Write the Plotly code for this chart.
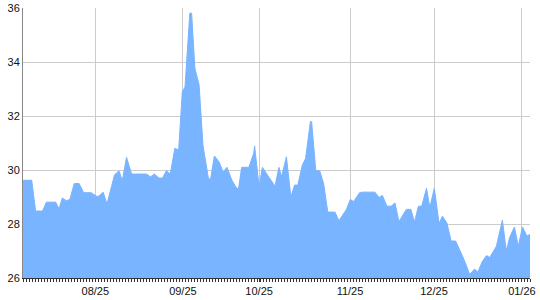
import plotly.graph_objects as go

# x position in trading-day index units, y value
day_idx = [0, 2.9, 4.2, 6.5, 7.8, 10.9, 12.0, 13.1, 14.5, 15.6, 17.1, 18.7, 20.2, 22.7, 24.5, 25.3,
           26.7, 28.0, 30.5, 32.0, 33.1, 34.5, 36.2, 41.1, 42.5, 43.8, 45.3, 46.5, 47.8, 49.1,
           50.6, 51.9, 53.1, 54.0, 55.6, 56.2, 57.3, 58.7, 60.0, 61.8, 62.5, 63.8, 65.3, 66.7,
           68.0, 69.6, 70.9, 71.8, 72.9, 75.3, 76.9, 77.2, 78.7, 79.8, 82.0, 84.0, 85.3, 86.2,
           87.8, 89.3, 90.5, 91.6, 93.1, 94.2, 95.8, 96.2, 97.6, 98.9, 100.2, 101.6, 104.0, 105.3,
           107.8, 109.1, 110.2, 112.2, 113.3, 117.3, 118.7, 119.8, 121.3, 122.7, 124.0, 125.3,
           127.8, 129.3, 130.5, 131.8, 132.9, 134.5, 135.6, 137.1, 138.7, 139.8, 141.3, 142.7,
           144.2, 145.6, 147.1, 148.9, 150.5, 151.6, 153.1, 154.5, 155.6, 157.8, 159.8, 161.1,
           162.2, 163.8, 165.1, 166.5, 168.0, 169.0]
values = [29.62, 29.62, 28.48, 28.48, 28.81, 28.81, 28.56, 28.96, 28.86, 28.91, 29.50, 29.50, 29.16, 29.16, 29.03, 29.03,
          29.18, 28.74, 29.82, 29.97, 29.60, 30.47, 29.85, 29.85, 29.75, 29.85, 29.70, 29.70, 29.97, 29.85,
          30.80, 30.75, 32.90, 33.07, 35.81, 35.81, 33.77, 33.15, 30.90, 29.69, 29.65, 30.52, 30.31, 29.93,
          30.10, 29.63, 29.38, 29.28, 30.10, 30.10, 30.62, 30.89, 29.38, 30.10, 29.73, 29.40, 30.10, 29.75,
          30.49, 29.00, 29.44, 29.44, 30.18, 30.43, 31.79, 31.79, 29.97, 29.97, 29.50, 28.44, 28.44, 28.12,
          28.54, 28.91, 28.83, 29.16, 29.18, 29.18, 28.98, 29.06, 28.66, 28.66, 28.78, 28.09,
          28.54, 28.54, 28.07, 28.66, 28.66, 29.32, 28.61, 29.32, 28.02, 28.29, 28.04, 27.37,
          27.37, 27.03, 26.66, 26.13, 26.33, 26.22, 26.61, 26.83, 26.76, 27.18, 28.14, 27.00,
          27.50, 27.89, 27.18, 27.89, 27.55, 27.62]

tick_pos = [24.1, 53.3, 78.7, 109.0, 137.0, 166.3, 169.0]
tick_labels = ["08/25", "09/25", "10/25", "11/25", "12/25", "01/26", ""]

fig = go.Figure()
fig.add_trace(go.Scatter(
    x=day_idx, y=values, mode="lines", fill="tozeroy",
    line=dict(color="#78b4ff", width=1),
    fillcolor="#78b4ff", hoverinfo="skip", showlegend=False,
))

fig.update_layout(
    width=540, height=300,
    margin=dict(l=23, r=10, t=8, b=22, autoexpand=False),
    paper_bgcolor="white", plot_bgcolor="white",
    font=dict(family="Liberation Sans, Arial, sans-serif", size=11, color="#111"),
    xaxis=dict(
        range=[0, 169], tickmode="array", tickvals=tick_pos, ticktext=tick_labels,
        showgrid=True, gridcolor="#cccccc", gridwidth=1,
        showline=True, linecolor="#333333", linewidth=1,
        ticks="outside", ticklen=3, tickcolor="#333333",
        minor=dict(tickmode="linear", tick0=0, dtick=1, ticks="outside", ticklen=3,
                   tickcolor="#333333", showgrid=False),
        zeroline=False, fixedrange=True, automargin=False,
    ),
    yaxis=dict(
        range=[26, 36], tickmode="linear", tick0=26, dtick=2,
        showgrid=True, gridcolor="#cccccc", gridwidth=1,
        showline=True, linecolor="#888888", linewidth=1,
        ticks="", zeroline=False, fixedrange=True, automargin=False,
        ticklabelstandoff=0,
    ),
)

fig.write_html("out.html")
